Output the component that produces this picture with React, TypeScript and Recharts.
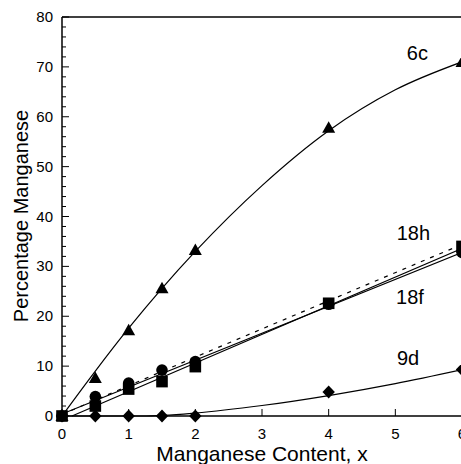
import React from "react";
import {
  ComposedChart,
  Line,
  Scatter,
  XAxis,
  YAxis,
  ReferenceLine,
  ReferenceDot,
} from "recharts";

const FONT = '"Liberation Sans", Arial, Helvetica, sans-serif';

// tick values
const xTicks = [0, 1, 2, 3, 4, 5, 6];
const yTicks = [
  0, 2, 4, 6, 8, 10, 12, 14, 16, 18, 20, 22, 24, 26, 28, 30, 32, 34, 36, 38, 40,
  42, 44, 46, 48, 50, 52, 54, 56, 58, 60, 62, 64, 66, 68, 70, 72, 74, 76, 78, 80,
];

// measured points (manganese content x)
const contentX = [0, 0.5, 1, 1.5, 2, 4, 6];
const site6c = [0, 7.6, 17.2, 25.6, 33.3, 57.8, 71];
const site18h = [0, 2, 5.4, 6.9, 9.9, 22.6, 34];
const site18f = [0, 3.9, 6.6, 9.2, 10.9, 22.4, 32.8];
const site9d = [0, 0, 0, 0, 0, 4.8, 9.3];

// fitted curves
const fit6cX = [0, 0.5, 1, 1.5, 2, 3, 4, 5, 6];
const fit6cY = [0, 9, 17.6, 25.6, 33, 46.2, 57.2, 65.4, 71];
const fit18hX = [0.15, 6];
const fit18hY = [0, 33.6];
const fit18fX = [0, 6];
const fit18fY = [0.4, 32.8];
const fitDashX = [0, 2, 4, 6];
const fitDashY = [0.3, 11.8, 23.1, 34.4];
const fit9dX = [0, 1.2, 2, 3, 4, 5, 6];
const fit9dY = [0, 0, 0.6, 2.1, 4.1, 6.5, 9.3];

// curve name labels
const siteNames = ["6c", "18h", "18f", "9d"];
const nameX = [5.33, 5.27, 5.22, 5.19];
const nameY = [72.9, 36.7, 23.8, 11.6];

const toRows = (xs: number[], ys: number[]) => xs.map((x, i) => ({ x, y: ys[i] }));

const Triangle = (p: any) => (
  <polygon
    points={`${p.cx},${p.cy - 6.5} ${p.cx - 6.5},${p.cy + 5} ${p.cx + 6.5},${p.cy + 5}`}
    fill="#000"
  />
);
const Circle = (p: any) => <circle cx={p.cx} cy={p.cy} r={5.8} fill="#000" />;
const Square = (p: any) => (
  <rect x={p.cx - 5.8} y={p.cy - 5.8} width={11.6} height={11.6} fill="#000" />
);
const Diamond = (p: any) => (
  <polygon
    points={`${p.cx},${p.cy - 6.5} ${p.cx + 6.2},${p.cy} ${p.cx},${p.cy + 6.5} ${p.cx - 6.2},${p.cy}`}
    fill="#000"
  />
);

const XTick = (p: any) => (
  <g>
    <line x1={p.x} x2={p.x} y1={p.y} y2={p.y - 7} stroke="#000" />
    <text x={p.x} y={p.y + 23} textAnchor="middle" fontSize={15} fontFamily={FONT} fill="#000">
      {p.payload.value}
    </text>
  </g>
);

const YTick = (p: any) => {
  const v = p.payload.value;
  const major = v % 10 === 0;
  return (
    <g>
      <line x1={p.x} x2={p.x + (major ? 7 : 4)} y1={p.y} y2={p.y} stroke="#000" />
      {major && (
        <text x={p.x - 9} y={p.y + 5} textAnchor="end" fontSize={15} fontFamily={FONT} fill="#000">
          {v}
        </text>
      )}
    </g>
  );
};

export default function App() {
  const curves = [
    { data: toRows(fit6cX, fit6cY), dash: undefined },
    { data: toRows(fit18hX, fit18hY), dash: undefined },
    { data: toRows(fit18fX, fit18fY), dash: undefined },
    { data: toRows(fitDashX, fitDashY), dash: "4 6" },
    { data: toRows(fit9dX, fit9dY), dash: undefined },
  ];

  return (
    <div
      style={{
        position: "fixed",
        left: 0,
        top: 0,
        width: 461,
        height: 464,
        overflow: "hidden",
        background: "#fff",
      }}
    >
      <div style={{ position: "absolute", left: 8, top: 8 }}>
        <ComposedChart
          width={480}
          height={456}
          margin={{ top: 9, right: 26, left: 0, bottom: 0 }}
        >
          <XAxis
            dataKey="x"
            type="number"
            domain={[0, 6]}
            ticks={xTicks}
            interval={0}
            tickSize={0}
            tickMargin={0}
            tickLine={false}
            tick={XTick}
            height={48}
            axisLine={{ stroke: "#000", strokeWidth: 1.5 }}
            label={() => (
              <text x={254} y={453} textAnchor="middle" fontSize={21} fontFamily={FONT} fill="#000">
                Manganese Content, x
              </text>
            )}
          />
          <YAxis
            dataKey="y"
            type="number"
            domain={[0, 80]}
            ticks={yTicks}
            interval={0}
            tickSize={0}
            tickMargin={0}
            tickLine={false}
            tick={YTick}
            width={54}
            axisLine={{ stroke: "#000", strokeWidth: 1.5 }}
            label={() => (
              <text
                x={20}
                y={208}
                transform="rotate(-90 20 208)"
                textAnchor="middle"
                fontSize={20}
                fontFamily={FONT}
                fill="#000"
              >
                Percentage Manganese
              </text>
            )}
          />
          <ReferenceLine y={80} stroke="#000" strokeWidth={1.5} />
          {curves.map((c, i) => (
            <Line
              key={i}
              data={c.data}
              dataKey="y"
              type="monotone"
              stroke="#000"
              strokeWidth={1.2}
              strokeDasharray={c.dash}
              dot={false}
              activeDot={false}
              isAnimationActive={false}
            />
          ))}
          <Scatter data={toRows(contentX, site6c)} shape={Triangle} isAnimationActive={false} />
          <Scatter data={toRows(contentX, site18f)} shape={Circle} isAnimationActive={false} />
          <Scatter data={toRows(contentX, site18h)} shape={Square} isAnimationActive={false} />
          <Scatter data={toRows(contentX, site9d)} shape={Diamond} isAnimationActive={false} />
          {siteNames.map((n, i) => (
            <ReferenceDot
              key={n}
              x={nameX[i]}
              y={nameY[i]}
              r={0}
              stroke="none"
              label={{ value: n, position: "center", fontSize: 20, fontFamily: FONT, fill: "#000" }}
            />
          ))}
        </ComposedChart>
      </div>
    </div>
  );
}
